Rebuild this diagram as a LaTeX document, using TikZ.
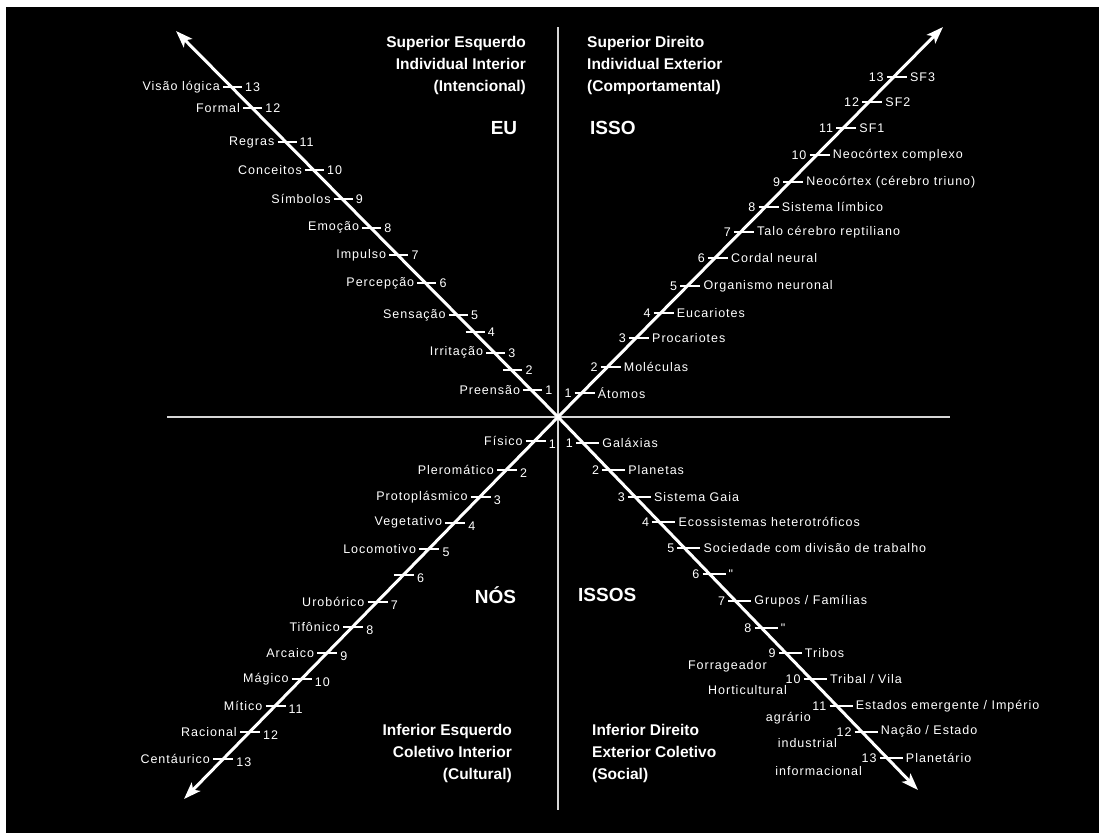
\documentclass[tikz,border=0pt]{standalone}
\usepackage{fontspec}
\usetikzlibrary{arrows.meta}
\newfontfamily\labfont[LetterSpace=8]{Liberation Sans}
\newfontfamily\titfont{Liberation Sans}
\definecolor{axisgray}{RGB}{214,214,214}
\begin{document}
\begin{tikzpicture}[x=1pt,y=-1pt,
  lab/.style={font=\labfont\fontsize{12.5}{14}\selectfont, text=white, inner sep=0pt},
  title/.style={font=\titfont\bfseries\fontsize{15.5}{22}\selectfont, text=white, inner sep=0pt},
  big/.style={font=\titfont\bfseries\fontsize{19}{22}\selectfont, text=white, inner sep=0pt},
  tickmark/.style={draw=white, line width=2.2pt, shorten <=3pt, shorten >=3pt},
  axis/.style={draw=axisgray, line width=2.6pt},
  arr/.style={draw=white, line width=3pt, -{Stealth[length=17pt,width=12pt,inset=4pt]}}]
\useasboundingbox (0,0) rectangle (1099,833);
\fill[white] (0,0) rectangle (1099,833);
\fill[black] (6,7) rectangle (1099,833);
% axes
\coordinate (C) at (558,417);
\coordinate (vt) at (558,27);
\coordinate (vb) at (558,810);
\coordinate (hl) at (167,417);
\coordinate (hr) at (950,417);
\draw[axis] (vt) -- (vb);
\draw[axis] (hl) -- (hr);
% arrows
\coordinate (tipUL) at (176,31);
\coordinate (tipUR) at (943,27);
\coordinate (tipLL) at (184,799);
\coordinate (tipLR) at (918,790);
\draw[arr] (C) -- (tipUL);
\draw[arr] (C) -- (tipUR);
\draw[arr] (C) -- (tipLL);
\draw[arr] (C) -- (tipLR);
% upper left
\foreach \y/\n/\t in {87.3/13/{Visão lógica},107.7/12/Formal,142.3/11/Regras,170/10/Conceitos,199/9/Símbolos,227.7/8/Emoção,255/7/Impulso,283.3/6/Percepção,315/5/Sensação,332/4/{},352.7/3/Irritação,370/2/{},390/1/Preensão}{
  \pgfmathsetmacro\lx{558-(417-\y)*0.992}
  \node[lab, anchor=east] (ull\n) at (\lx-11,\y) {\t};
  \node[lab, anchor=west] (uln\n) at (\lx+14,\y) {\n};
  \draw[tickmark] (ull\n.east) -- (ull\n.east -| uln\n.west);
}
% upper right
\foreach \y/\n/\t in {393/1/Átomos,366.7/2/Moléculas,338/3/Procariotes,313/4/Eucariotes,286/5/{Organismo neuronal},258/6/{Cordal neural},231.7/7/{Talo cérebro reptiliano},206.7/8/{Sistema límbico},181.7/9/{Neocórtex (cérebro triuno)},155/10/{Neocórtex complexo},128/11/SF1,101.7/12/SF2,76.7/13/SF3}{
  \pgfmathsetmacro\lx{558+(417-\y)*0.987}
  \node[lab, anchor=east] (urn\n) at (\lx-10,\y) {\n};
  \node[lab, anchor=west] (url\n) at (\lx+16,\y) {\t};
  \draw[tickmark] (urn\n.east) -- (urn\n.east -| url\n.west);
}
% lower left
\foreach \y/\n/\t in {440.7/1/Físico,470/2/Pleromático,496.7/3/Protoplásmico,522.7/4/Vegetativo,549/5/Locomotivo,575/6/{},601.7/7/Urobórico,626.7/8/Tifônico,653/9/Arcaico,679/10/Mágico,705.7/11/Mítico,731.7/12/Racional,759/13/Centáurico}{
  \pgfmathsetmacro\lx{558-(\y-417)*0.982}
  \node[lab, anchor=east] (lll\n) at (\lx-12,\y) {\t};
  \node[lab, anchor=west] (lln\n) at (\lx+14,\y+3) {\n};
  \draw[tickmark] (lll\n.east) -- (lll\n.east -| lln\n.west);
}
% lower right
\foreach \y/\n/\t in {443/1/Galáxias,470/2/Planetas,496.7/3/{Sistema Gaia},522/4/{Ecossistemas heterotróficos},548/5/{Sociedade com divisão de trabalho},574/6/",600.7/7/{Grupos / Famílias},628/8/",653/9/Tribos,679/10/{Tribal / Vila},705.7/11/{Estados emergente / Império},731.7/12/{Nação / Estado},757.7/13/Planetário}{
  \pgfmathsetmacro\lx{558+(\y-417)*0.965}
  \node[lab, anchor=east] (lrn\n) at (\lx-10,\y) {\n};
  \node[lab, anchor=west] (lrl\n) at (\lx+19,\y) {\t};
  \draw[tickmark] (lrn\n.east) -- (lrn\n.east -| lrl\n.west);
}
\node[lab, anchor=east] (forr) at (767,666) {Forrageador};
\node[lab, anchor=east] (hort) at (787,690) {Horticultural};
\node[lab, anchor=east] (agra) at (811,718.3) {agrário};
\node[lab, anchor=east] (indu) at (837,743.3) {industrial};
\node[lab, anchor=east] (info) at (862,771) {informacional};
% titles
\node[title, anchor=east, align=right] (tUL) at (526,65) {Superior Esquerdo\\Individual Interior\\(Intencional)};
\node[title, anchor=west, align=left] (tUR) at (587,65) {Superior Direito\\Individual Exterior\\(Comportamental)};
\node[title, anchor=east, align=right] (tLL) at (512,753.5) {Inferior Esquerdo\\Coletivo Interior\\(Cultural)};
\node[title, anchor=west, align=left] (tLR) at (592,753.5) {Inferior Direito\\Exterior Coletivo\\(Social)};
\node[big] (eu) at (504,128) {EU};
\node[big, anchor=west] (isso) at (590,128) {ISSO};
\node[big] (nos) at (495.5,595) {NÓS};
\node[big, anchor=west] (issos) at (578,595) {ISSOS};
\end{tikzpicture}
\end{document}
